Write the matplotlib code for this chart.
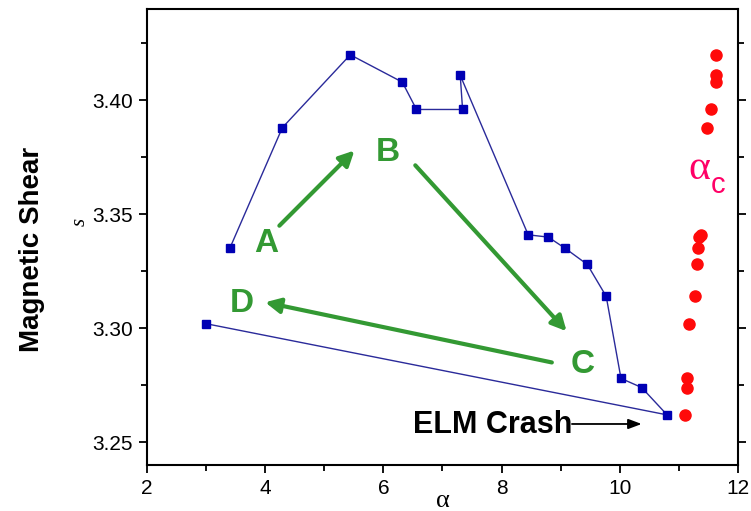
import matplotlib.pyplot as plt
from matplotlib.ticker import MultipleLocator, FormatStrFormatter

# === Data ===
path_alpha = [3.40, 4.29, 5.44, 6.32, 6.56, 7.34, 7.30, 8.45, 8.79, 9.08, 9.45, 9.77, 10.02, 10.37, 10.80, 3.00]
path_shear = [3.335, 3.388, 3.420, 3.408, 3.396, 3.396, 3.411, 3.341, 3.340, 3.335, 3.328, 3.314, 3.278, 3.274, 3.262, 3.302]

crit_alpha = [11.63, 11.63, 11.62, 11.55, 11.47, 11.37, 11.34, 11.32, 11.30, 11.28, 11.17, 11.13, 11.13, 11.10]
crit_shear = [3.420, 3.411, 3.408, 3.396, 3.388, 3.341, 3.340, 3.335, 3.328, 3.314, 3.302, 3.278, 3.274, 3.262]

phase_labels = ['A', 'B', 'C', 'D']
phase_x = [4.02, 6.07, 9.37, 3.61]
phase_y = [3.337, 3.377, 3.284, 3.311]

# arrows between phases: (tail, head)
phase_arrows = [((4.24, 3.345), (5.51, 3.378)),
                ((6.54, 3.3715), (9.10, 3.2987)),
                ((8.85, 3.285), (4.00, 3.3114))]

green = '#339933'

# === Plot ===
fig = plt.figure(figsize=(7.51, 5.11), dpi=100)
ax = fig.add_axes([0.1957, 0.0900, 0.7870, 0.8920])
plt.rcParams['font.family'] = ['Liberation Sans', 'DejaVu Sans']

ax.plot(path_alpha, path_shear, color='#2a2a9a', linewidth=1.0, marker='s',
        markersize=6, markerfacecolor='#0000b4', markeredgecolor='#0000b4', zorder=3)
ax.plot(crit_alpha, crit_shear, linestyle='none', marker='o', markersize=8,
        color='#ff0a0a', zorder=3)

for lab, x, y in zip(phase_labels, phase_x, phase_y):
    ax.text(x, y, lab, color=green, fontsize=24, fontweight='bold',
            family='Liberation Sans', ha='center', va='center')

for tail, head in phase_arrows:
    ax.annotate('', xy=head, xytext=tail,
                arrowprops=dict(arrowstyle='-|>,head_length=0.9,head_width=0.45',
                                color=green, lw=3, shrinkA=0, shrinkB=0))

# ELM crash label and arrow
ax.annotate('', xy=(10.37, 3.258), xytext=(9.19, 3.258),
            arrowprops=dict(arrowstyle='-|>,head_length=0.8,head_width=0.3',
                            color='black', lw=1.3, shrinkA=0, shrinkB=0))
ax.text(9.19, 3.2575, 'ELM Crash', fontsize=22, fontweight='bold',
        family='Liberation Sans', ha='right', va='center')

# alpha_c label
ax.text(11.34, 3.370, '\u03b1', color='#ff0066', fontsize=30,
        family='Liberation Serif', ha='center', va='center')
ax.text(11.67, 3.363, 'c', color='#ff0066', fontsize=21,
        family='Liberation Sans', ha='center', va='center')

ax.set_xlim(2, 12)
ax.set_ylim(3.24, 3.44)
ax.xaxis.set_major_locator(MultipleLocator(2))
ax.xaxis.set_minor_locator(MultipleLocator(1))
ax.yaxis.set_major_locator(MultipleLocator(0.05))
ax.yaxis.set_minor_locator(MultipleLocator(0.025))
ax.yaxis.set_major_formatter(FormatStrFormatter('%.2f'))

ax.tick_params(which='both', direction='out', right=True, top=False, width=1.3)
ax.tick_params(which='major', length=6, labelsize=15, pad=4)
ax.tick_params(which='minor', length=4)
for lab in ax.get_xticklabels() + ax.get_yticklabels():
    lab.set_family('Liberation Sans')
for sp in ax.spines.values():
    sp.set_linewidth(1.5)

ax.set_xlabel('\u03b1', fontsize=19, family='Liberation Serif', labelpad=-6)
fig.text(0.107, 0.566, 's', rotation=90, fontsize=15, family='Liberation Serif',
         style='italic', ha='center', va='center')
fig.text(0.042, 0.511, 'Magnetic Shear', rotation=90, fontsize=20, fontweight='bold',
         family='Liberation Sans', ha='center', va='center')

plt.savefig('out.png', dpi=100)
